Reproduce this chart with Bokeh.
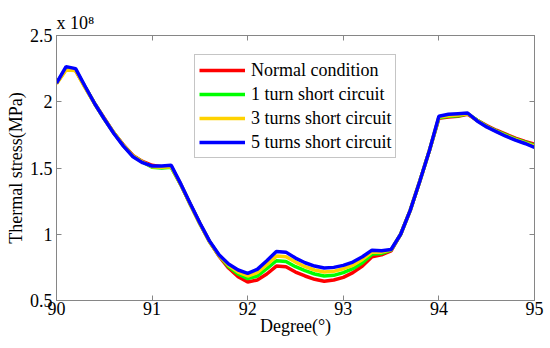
from bokeh.plotting import figure
from bokeh.models import Range1d, FixedTicker, CustomJSTickFormatter, LinearAxis, Legend, LegendItem
from bokeh.embed import file_html
from bokeh.resources import INLINE

degree = [90.0, 90.1, 90.2, 90.3, 90.4, 90.5, 90.6, 90.7, 90.8, 90.9,
          91.0, 91.1, 91.2, 91.3, 91.4, 91.5, 91.6, 91.7, 91.8, 91.9,
          92.0, 92.1, 92.2, 92.3, 92.4, 92.5, 92.6, 92.7, 92.8, 92.9,
          93.0, 93.1, 93.2, 93.3, 93.4, 93.5, 93.6, 93.7, 93.8, 93.9,
          94.0, 94.1, 94.2, 94.3, 94.4, 94.5, 94.6, 94.7, 94.8, 94.9, 95.0]

normal = [2.14, 2.245, 2.235, 2.11, 1.985, 1.875, 1.765, 1.675, 1.595, 1.55,
          1.52, 1.51, 1.51, 1.375, 1.225, 1.08, 0.945, 0.835, 0.745, 0.68,
          0.64, 0.655, 0.70, 0.76, 0.755, 0.715, 0.685, 0.66, 0.645, 0.655,
          0.675, 0.71, 0.76, 0.83, 0.845, 0.875, 1.0, 1.18, 1.40, 1.63,
          1.875, 1.885, 1.89, 1.905, 1.86, 1.82, 1.785, 1.755, 1.725, 1.70, 1.68]

turn1 = [2.14, 2.25, 2.24, 2.11, 1.985, 1.87, 1.765, 1.67, 1.59, 1.545,
         1.505, 1.50, 1.505, 1.375, 1.225, 1.08, 0.945, 0.84, 0.755, 0.70,
         0.665, 0.685, 0.74, 0.80, 0.795, 0.755, 0.725, 0.70, 0.685, 0.69,
         0.71, 0.74, 0.785, 0.85, 0.855, 0.88, 1.0, 1.18, 1.40, 1.63,
         1.88, 1.89, 1.895, 1.91, 1.86, 1.815, 1.78, 1.75, 1.72, 1.695, 1.67]

turn3 = [2.135, 2.24, 2.235, 2.105, 1.985, 1.87, 1.765, 1.67, 1.59, 1.545,
         1.51, 1.505, 1.51, 1.375, 1.225, 1.08, 0.945, 0.84, 0.765, 0.715,
         0.685, 0.71, 0.77, 0.835, 0.83, 0.79, 0.755, 0.73, 0.715, 0.72,
         0.74, 0.765, 0.81, 0.865, 0.865, 0.882, 1.0, 1.18, 1.40, 1.63,
         1.885, 1.895, 1.90, 1.91, 1.858, 1.812, 1.777, 1.745, 1.715, 1.69, 1.665]

turn5 = [2.14, 2.265, 2.25, 2.115, 1.985, 1.87, 1.76, 1.665, 1.585, 1.54,
         1.515, 1.515, 1.52, 1.38, 1.23, 1.085, 0.95, 0.845, 0.775, 0.73,
         0.705, 0.735, 0.80, 0.87, 0.865, 0.82, 0.785, 0.76, 0.745, 0.75,
         0.765, 0.79, 0.83, 0.88, 0.875, 0.885, 1.0, 1.18, 1.40, 1.63,
         1.89, 1.905, 1.91, 1.915, 1.855, 1.81, 1.775, 1.74, 1.71, 1.685, 1.655]

series_names = ["Normal condition", "1 turn short circuit", "3 turns short circuit", "5 turns short circuit"]
series_colors = ["#FF0000", "#00FF00", "#FFD200", "#0000FF"]
x_ticks = [90, 91, 92, 93, 94, 95]
y_ticks = [0.5, 1.0, 1.5, 2.0, 2.5]

FONT = "Liberation Serif"
AX = "#868686"

p = figure(width=550, height=348, output_backend="svg", toolbar_location=None,
           x_range=Range1d(90, 95), y_range=Range1d(0.5, 2.5),
           min_border_left=56, min_border_right=16, min_border_top=35, min_border_bottom=48)
p.border_fill_color = "white"
p.xgrid.visible = False
p.ygrid.visible = False
p.outline_line_color = AX
p.background_fill_color = "white"

p.title.text = "x 10\u2078"
p.title.text_font = FONT
p.title.text_font_size = "18px"
p.title.text_font_style = "normal"
p.title.text_color = "black"
p.title.align = "left"
p.title.standoff = 5
p.title.offset = 0

for ax in (p.xaxis[0], p.yaxis[0]):
    ax.axis_line_color = AX
    ax.major_tick_line_color = AX
    ax.major_tick_in = 5
    ax.major_tick_out = 0
    ax.minor_tick_line_color = None
    ax.major_label_text_font = FONT
    ax.major_label_text_font_size = "18px"
    ax.major_label_text_color = "black"
    ax.axis_label_text_font = FONT
    ax.axis_label_text_font_size = "18px"
    ax.axis_label_text_font_style = "normal"
    ax.axis_label_text_color = "black"

p.xaxis.ticker = FixedTicker(ticks=x_ticks)
p.yaxis.ticker = FixedTicker(ticks=y_ticks)
p.yaxis.formatter = CustomJSTickFormatter(code="return String(tick);")
p.xaxis.axis_label = "Degree(°)"
p.yaxis.axis_label = "Thermal stress(MPa)"
p.xaxis.major_label_standoff = 1
p.xaxis.axis_label_standoff = -2
p.yaxis.major_label_standoff = 4
p.yaxis.axis_label_standoff = 1

for loc, tk in (("right", y_ticks), ("above", x_ticks)):
    a = LinearAxis(ticker=FixedTicker(ticks=tk), formatter=CustomJSTickFormatter(code="return '';"))
    a.axis_line_color = AX
    a.major_tick_line_color = AX
    a.major_tick_in = 5
    a.major_tick_out = 0
    a.minor_tick_line_color = None
    a.major_label_standoff = 0
    p.add_layout(a, loc)

renderers = []
for ys, c in zip([normal, turn1, turn3, turn5], series_colors):
    r = p.line(degree, ys, line_color=c, line_width=3.5)
    renderers.append(r)

legend = Legend(items=[LegendItem(label=n, renderers=[r]) for n, r in zip(series_names, renderers)],
                location=(138, 142))
legend.label_text_font = FONT
legend.label_text_font_size = "18px"
legend.label_text_color = "black"
legend.glyph_width = 46
legend.glyph_height = 22
legend.spacing = 2
legend.padding = 4
legend.margin = 0
legend.label_standoff = 6
legend.border_line_color = "#8c8c8c"
legend.border_line_width = 1
legend.background_fill_alpha = 1
p.add_layout(legend, "center")

open("out.html", "w").write(file_html(p, INLINE))
